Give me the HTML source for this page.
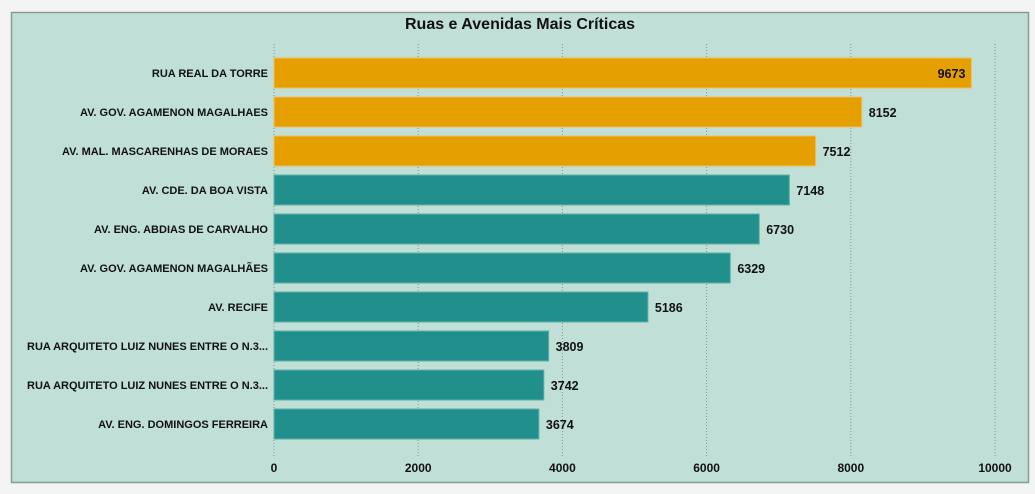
<!DOCTYPE html>
<html><head><meta charset="utf-8"><style>
html,body{margin:0;padding:0;background:#f3f3f3;}
svg{display:block;font-family:"Liberation Sans",sans-serif;}
</style></head><body>
<svg id="chart" width="1035" height="494">
<rect x="0" y="0" width="1035" height="494" fill="#f4f4f4"/>
<rect x="11.5" y="12.5" width="1017" height="470" fill="#c0dfd7" stroke="#8a9a95" stroke-width="1.5"/>
<text x="520" y="29" text-anchor="middle" font-size="16" font-weight="bold" fill="#111">Ruas e Avenidas Mais Críticas</text>
<g id="grid"></g><g id="bars"></g><g id="labels"></g>
</svg>
<script>
const categories = ["RUA REAL DA TORRE","AV. GOV. AGAMENON MAGALHAES","AV. MAL. MASCARENHAS DE MORAES","AV. CDE. DA BOA VISTA","AV. ENG. ABDIAS DE CARVALHO","AV. GOV. AGAMENON MAGALHÃES","AV. RECIFE","RUA ARQUITETO LUIZ NUNES ENTRE O N.3...","RUA ARQUITETO LUIZ NUNES ENTRE O N.3...","AV. ENG. DOMINGOS FERREIRA"];
const values = [9673,8152,7512,7148,6730,6329,5186,3809,3742,3674];
const highlighted = [true,true,true,false,false,false,false,false,false,false];
const ticks = [0,2000,4000,6000,8000,10000];
const NS="http://www.w3.org/2000/svg";
const x0=274, x1=995, vmax=10000;
const xs=v=>x0+(v/vmax)*(x1-x0);
const y0=58, step=39, bh=30;
const ys=i=>y0+i*step;
function mk(t,a,p){const e=document.createElementNS(NS,t);for(const k in a)e.setAttribute(k,a[k]);p.appendChild(e);return e;}
const g=document.getElementById('grid'), b=document.getElementById('bars'), l=document.getElementById('labels');
ticks.forEach(t=>{
  const ln=mk('line',{x1:xs(t),x2:xs(t),y1:44,y2:457,stroke:'#7f948e','stroke-width':1,'stroke-dasharray':'1,2'},g);
  
  
  const tx=mk('text',{x:xs(t),y:472,'text-anchor':'middle','font-size':12,'font-weight':'bold',fill:'#111'},g);
  tx.textContent=t;
  
  
});
values.forEach((v,i)=>{
  const r=mk('rect',{x:x0,y:ys(i),width:xs(v)-x0,height:bh,fill:highlighted[i]?'#e5a000':'#21908c',stroke:highlighted[i]?'#f0c060':'#5fb0a8','stroke-width':1},b);
  
  
  const c=mk('text',{x:268,y:ys(i)+bh/2+4,'text-anchor':'end','font-size':11,'font-weight':'bold',fill:'#111'},l);
  c.textContent=categories[i];
  
  
  const inside = xs(v)+50>x1+10;
  const vt=mk('text',{x:inside?xs(v)-6:xs(v)+7,y:ys(i)+bh/2+5,'text-anchor':inside?'end':'start','font-size':12.5,'font-weight':'bold',fill:'#111'},l);
  vt.textContent=v;
  
  
});
</script>
</body></html>
